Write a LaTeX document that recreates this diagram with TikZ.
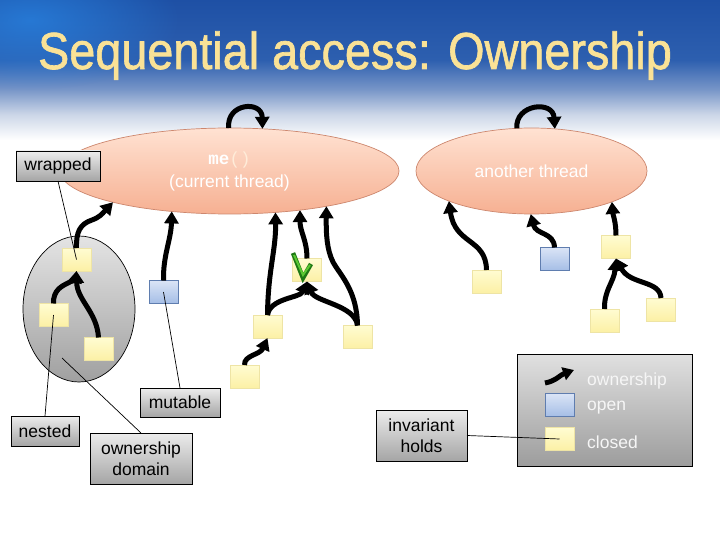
\documentclass[tikz,border=0pt]{standalone}
\usepackage{fontspec}
\setmainfont{Liberation Sans}
\setmonofont{Liberation Mono}
\newfontfamily\titlefont[FakeBold=1.3]{Liberation Sans}
\usetikzlibrary{shapes.geometric,arrows.meta,fadings}
\tikzfading[name=glowfade, inner color=transparent!0, outer color=transparent!100]
\definecolor{bgtop}{RGB}{30,80,165}
\definecolor{bga}{RGB}{45,95,175}
\definecolor{bgb}{RGB}{120,150,200}
\definecolor{bgc}{RGB}{205,215,232}
\definecolor{glow}{RGB}{40,135,230}
\definecolor{titlecol}{RGB}{250,226,150}
\definecolor{elltop}{RGB}{255,226,210}
\definecolor{ellbot}{RGB}{246,176,146}
\definecolor{ellborder}{RGB}{205,135,110}
\definecolor{lbtop}{RGB}{236,236,236}
\definecolor{lbbot}{RGB}{165,165,165}
\definecolor{domtop}{RGB}{228,228,228}
\definecolor{dombot}{RGB}{160,160,160}
\definecolor{sqtop}{RGB}{255,252,210}
\definecolor{sqbot}{RGB}{252,240,165}
\definecolor{sqborder}{RGB}{238,228,165}
\definecolor{optop}{RGB}{218,228,246}
\definecolor{opbot}{RGB}{165,190,230}
\definecolor{opborder}{RGB}{95,125,175}
\definecolor{chkdark}{RGB}{30,120,20}
\definecolor{chklight}{RGB}{90,200,50}
\definecolor{legtext}{RGB}{246,246,246}
\pgfdeclareverticalshading{bgsh}{100bp}{color(0bp)=(white); color(25bp)=(white); color(34bp)=(bgc); color(43bp)=(bgb); color(53.6bp)=(bga); color(75bp)=(bgtop); color(100bp)=(bgtop)}
\tikzset{
  closedsq/.style={rectangle, minimum width=29pt, minimum height=23pt, inner sep=0pt, outer sep=0pt, draw=sqborder, top color=sqtop, bottom color=sqbot, line width=0.6pt},
  opensq/.style={rectangle, minimum width=29pt, minimum height=23pt, inner sep=0pt, outer sep=0pt, draw=opborder, top color=optop, bottom color=opbot, line width=0.8pt},
  threadell/.style={ellipse, inner sep=0pt, outer sep=0pt, draw=ellborder, line width=0.7pt, top color=elltop, bottom color=ellbot, text=white, align=center, font=\fontsize{17.5}{23}\selectfont},
  lbl/.style={rectangle, draw=black, line width=0.8pt, top color=lbtop, bottom color=lbbot, inner sep=0pt, outer sep=0pt, align=center, font=\fontsize{17.5}{21.5}\selectfont},
  own/.style={draw=black, line width=5pt, -{Triangle[length=12pt,width=14pt]}},
  thinline/.style={draw=black, line width=0.7pt},
  legtxt/.style={anchor=west, text=legtext, inner sep=0pt, font=\fontsize{17.5}{21}\selectfont}
}
\begin{document}
\begin{tikzpicture}[x=1pt,y=-1pt]
\useasboundingbox (0,0) rectangle (720,540);
\fill[white] (0,0) rectangle (720,540);
\shade[shading=bgsh] (0,0) rectangle (720,140);
\fill[glow, opacity=0.7, path fading=glowfade] (30,20) ellipse (150 and 70);
% title
\node[anchor=base, text=titlecol, font=\titlefont\fontsize{52}{52}\selectfont] (title) at (355,69) {\scalebox{0.9}[1]{Sequential access: Ownership}};
% thread ellipses
\node[threadell, minimum width=339pt, minimum height=86pt] (e1) at (229.5,171) {\texttt{\textbf{me}\textcolor{white!85!orange}{()}}\\(current thread)};
\node[threadell, minimum width=231pt, minimum height=86pt] (e2) at (531.5,171) {another thread};
% ownership domain
\node[ellipse, draw=black, line width=0.7pt, top color=domtop, bottom color=dombot, minimum width=112pt, minimum height=146pt, inner sep=0pt, outer sep=0pt] (dom) at (79,309) {};
% objects
\node[closedsq] (A) at (76.5,259.5) {};
\node[closedsq] (B) at (53.5,315) {};
\node[closedsq] (C) at (98.5,349) {};
\node[opensq] (M) at (163.5,292) {};
\node[closedsq] (D) at (307,270) {};
\node[closedsq] (E) at (267.5,326.5) {};
\node[closedsq] (F) at (357.5,337) {};
\node[closedsq] (G) at (244.5,376.5) {};
\node[closedsq] (H) at (486.5,281.5) {};
\node[opensq] (I) at (554.5,259) {};
\node[closedsq] (J) at (616,247) {};
\node[closedsq] (K) at (604.5,320.5) {};
\node[closedsq] (L) at (661,309.5) {};
% ownership arrows
\draw[own] (e1.91) .. controls (226,103) and (262,100) .. (e1.52);
\draw[own] (e2.109) .. controls (515,104) and (553,100) .. (e2.61);
\draw[own] (A.north) .. controls (76,232) and (80,224) .. (92,220) .. controls (100,217) and (102,214) .. (e1.195);
\draw[own] (B.north) .. controls (53,290) and (62,286) .. (68,283) .. controls (73,280) and (75,280) .. (A.south);
\draw[own] (C.north) .. controls (97,312) and (77,300) .. (A.south);
\draw[own] (M.north) .. controls (163,255) and (171,240) .. (e1.215);
\draw[own] (E.north) .. controls (268,270) and (276,250) .. (e1.318);
\draw[own] (E.north) .. controls (270,298) and (300,298) .. (D.south);
\draw[own] (F.north) .. controls (355,305) and (315,302) .. (D.south);
\draw[own] (F.north) .. controls (357,290) and (340,275) .. (333,262) .. controls (327,250) and (326,235) .. (e1.340);
\draw[own] (D.north) .. controls (307,240) and (300,232) .. (e1.331);
\draw[own] (G.north) .. controls (244,355) and (260,355) .. (E.south);
\draw[own] (H.north) .. controls (486,238) and (455,245) .. (e2.200);
\draw[own] (I.north) .. controls (554,232) and (536,235) .. (e2.269);
\draw[own] (J.north) .. controls (616,222) and (613,215) .. (e2.339);
\draw[own] (K.north) .. controls (604,290) and (614,282) .. (J.south);
\draw[own] (L.north) .. controls (660,280) and (630,285) .. (J.south);
% check mark
\draw[chkdark, line width=4.5pt, line join=miter] (293,253) -- (303,278) -- (311,264);
\draw[chklight, line width=2pt, line join=miter] (294,255) -- (303,275) -- (310,265);
% labels
\node[lbl, minimum width=84pt, minimum height=30pt] (wrapped) at (58,166) {wrapped};
\node[lbl, minimum width=68pt, minimum height=30pt] (nested) at (45,431) {nested};
\node[lbl, minimum width=80pt, minimum height=29pt] (mutable) at (180,402.5) {mutable};
\node[lbl, minimum width=102pt, minimum height=51pt] (odom) at (141,458.5) {ownership\\domain};
\node[lbl, minimum width=91pt, minimum height=51pt] (inv) at (421.5,435.5) {invariant\\holds};
% legend
\node[rectangle, draw=black, line width=0.8pt, top color=lbtop!95!black, bottom color=lbbot!95!black, minimum width=175pt, minimum height=112pt, inner sep=0pt, outer sep=0pt] (legend) at (604.5,410) {};
\coordinate (lgs) at (545,383);
\coordinate (lge) at (574,370);
\draw[own, -{Triangle[length=11pt,width=13pt]}] (lgs) .. controls (556,381) and (560,375) .. (lge);
\node[opensq] (lopen) at (559.5,405) {};
\node[closedsq] (lclosed) at (559.5,439) {};
\node[legtxt] (t1) at (587,381) {ownership};
\node[legtxt] (t2) at (587,408) {open};
\node[legtxt] (t3) at (587,442) {closed};
% annotation lines
\coordinate (odend) at (62,358);
\draw[thinline] (wrapped.south) -- (A.center);
\draw[thinline] (nested.north) -- (B.center);
\draw[thinline] (mutable.north) -- (M.center);
\draw[thinline] (odom.north) -- (odend);
\draw[thinline] (inv.east) -- (lclosed.center);
\end{tikzpicture}
\end{document}
